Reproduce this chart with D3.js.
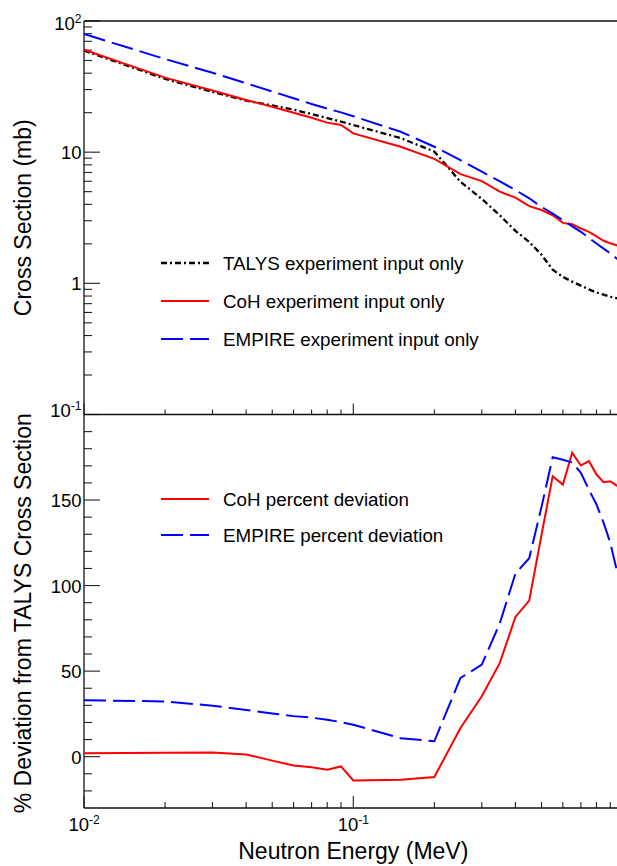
<!DOCTYPE html>
<html>
<head>
<meta charset="utf-8">
<script src="https://cdn.jsdelivr.net/npm/d3@7"></script>
<style>
  html, body { margin: 0; padding: 0; background: #fff; }
  svg { display: block; }
  text { font-family: "Liberation Sans", Arial, Helvetica, sans-serif; fill: #000; }
</style>
</head>
<body>
<svg id="chart" width="617" height="866"></svg>
<script>
// ---------------- DATA ----------------
const energy = [0.01, 0.02, 0.03, 0.04, 0.05, 0.06, 0.07, 0.08, 0.09, 0.1,
                0.15, 0.2, 0.25, 0.3, 0.35, 0.4, 0.45, 0.5, 0.55, 0.6,
                0.65, 0.7, 0.75, 0.8, 0.85, 0.9, 0.95, 1.0];

const talysXS  = [59.5, 36.2, 28.8, 24.7, 22.7, 21.1, 19.5, 18.2, 17.1, 16.1,
                  12.8, 10.1, 5.95, 4.4, 3.3, 2.51, 2.07, 1.65, 1.27, 1.12,
                  1.03, 0.96, 0.9, 0.85, 0.82, 0.79, 0.77, 0.75];
const cohXS    = [60.5, 37.0, 29.5, 25.0, 22.2, 20.0, 18.3, 16.8, 16.1, 13.9,
                  11.0, 8.9, 6.8, 6.02, 5.0, 4.5, 3.88, 3.62, 3.3, 2.89,
                  2.82, 2.62, 2.47, 2.28, 2.11, 2.02, 1.95, 1.9];
const empireXS = [79.5, 51.3, 40.3, 33.5, 29.0, 25.8, 23.3, 21.5, 20.1, 18.8,
                  14.3, 11.0, 8.7, 7.1, 6.0, 5.14, 4.45, 3.83, 3.4, 3.03,
                  2.72, 2.47, 2.22, 2.01, 1.84, 1.69, 1.55, 1.42];

const cohDev    = [2.0, 2.3, 2.5, 1.3, -2.3, -5.1, -6.2, -7.6, -5.7, -13.9,
                   -13.5, -11.9, 16.8, 35.3, 54.8, 81.7, 91.2, 129.7, 163.9, 159.0,
                   177.6, 170.2, 172.7, 164.9, 160.4, 161.0, 158.5, 157.0];
const empireDev = [33.0, 32.3, 29.8, 27.3, 25.3, 23.7, 22.8, 21.6, 20.2, 18.7,
                   10.8, 9.0, 46.0, 53.8, 78.0, 107.0, 116.0, 146.0, 175.0, 173.5,
                   172.0, 165.9, 156.0, 147.4, 136.7, 125.0, 109.4, 96.0];

const topYTickValues = [0.1, 1, 10, 100];
const topYTickLabels = [["10", "-1"], ["1", ""], ["10", ""], ["10", "2"]];
const botYTickValues = [0, 50, 100, 150];
const botYTickLabels = ["0", "50", "100", "150"];
const xTickValues = [0.01, 0.1];
const xTickLabels = [["10", "-2"], ["10", "-1"]];

const topLegend = ["TALYS experiment input only", "CoH experiment input only", "EMPIRE experiment input only"];
const botLegend = ["CoH percent deviation", "EMPIRE percent deviation"];
const xTitle = "Neutron Energy (MeV)";
const topYTitle = "Cross Section (mb)";
const botYTitle = "% Deviation from TALYS Cross Section";

// ---------------- LAYOUT ----------------
const L = 84, T = 21, MID = 414.5, B = 808, R = 622.6;
const svg = d3.select("#chart");

const x = d3.scaleLog().domain([0.01, 1]).range([L, R]);
const yTop = d3.scaleLog().domain([0.1, 100]).range([MID, T]);
const yBot = d3.scaleLinear().domain([-30, 200]).range([B, MID]);

const styles = {
  talys:  { color: "#000000", dash: "6,3,2,3", width: 2.3 },
  coh:    { color: "#ff0000", dash: null, width: 2 },
  empire: { color: "#0000ff", dash: "22,7", width: 2 }
};

// clip paths
const defs = svg.append("defs");
defs.append("clipPath").attr("id", "clipTop").append("rect")
  .attr("x", L).attr("y", T).attr("width", R - L).attr("height", MID - T);
defs.append("clipPath").attr("id", "clipBot").append("rect")
  .attr("x", L).attr("y", MID).attr("width", R - L).attr("height", B - MID);

// ---------- ticks ----------
const tickG = svg.append("g").attr("stroke", "#222").attr("stroke-width", 1.1);

const topMinor = [];
[0.1, 1, 10].forEach(dec => { for (let k = 2; k <= 9; k++) topMinor.push(dec * k); });
tickG.selectAll(".tyMin").data(topMinor).join("line")
  .attr("x1", L).attr("x2", L + 8)
  .attr("y1", d => yTop(d)).attr("y2", d => yTop(d));
tickG.selectAll(".tyMaj").data(topYTickValues).join("line")
  .attr("x1", L).attr("x2", L + 16)
  .attr("y1", d => yTop(d)).attr("y2", d => yTop(d));

const botMinor = d3.range(-20, 200, 10).filter(v => v % 50 !== 0);
tickG.selectAll(".byMin").data(botMinor).join("line")
  .attr("x1", L).attr("x2", L + 8)
  .attr("y1", d => yBot(d)).attr("y2", d => yBot(d));
tickG.selectAll(".byMaj").data(botYTickValues).join("line")
  .attr("x1", L).attr("x2", L + 16)
  .attr("y1", d => yBot(d)).attr("y2", d => yBot(d));

const xMinor = [];
[0.01, 0.1].forEach(dec => { for (let k = 2; k <= 9; k++) xMinor.push(dec * k); });
tickG.selectAll(".txMin").data(xMinor).join("line")
  .attr("x1", d => x(d)).attr("x2", d => x(d))
  .attr("y1", MID).attr("y2", MID - 5);
tickG.selectAll(".txMaj").data(xTickValues).join("line")
  .attr("x1", d => x(d)).attr("x2", d => x(d))
  .attr("y1", MID).attr("y2", MID - 11);
tickG.selectAll(".bxMin").data(xMinor).join("line")
  .attr("x1", d => x(d)).attr("x2", d => x(d))
  .attr("y1", B).attr("y2", B - 6);
tickG.selectAll(".bxMaj").data(xTickValues).join("line")
  .attr("x1", d => x(d)).attr("x2", d => x(d))
  .attr("y1", B).attr("y2", B - 12);

// ---------- frame ----------
const frame = svg.append("g").attr("stroke", "#111").attr("stroke-width", 1.3).attr("fill", "none");
frame.append("line").attr("x1", L).attr("x2", 617).attr("y1", T).attr("y2", T);
frame.append("line").attr("x1", L).attr("x2", 617).attr("y1", MID).attr("y2", MID);
frame.append("line").attr("x1", L).attr("x2", 617).attr("y1", B).attr("y2", B);
frame.append("line").attr("x1", L).attr("x2", L).attr("y1", T).attr("y2", B);

// ---------- tick labels ----------
const FS = 18.5, SUP = 12;
function supLabel(g, base, exp, xPos, yPos, anchor, supDy) {
  const t = g.append("text").attr("x", xPos).attr("y", yPos)
    .attr("text-anchor", anchor).attr("font-size", FS);
  t.append("tspan").text(base);
  if (exp) t.append("tspan").attr("font-size", SUP).attr("dy", supDy).text(exp);
  return t;
}
const lab = svg.append("g");
topYTickValues.forEach((v, i) => {
  let yy = yTop(v) + 7;
  if (i === 0) yy = yTop(v) + 2.5;
  if (i === topYTickValues.length - 1) yy = yTop(v) + 9;
  supLabel(lab, topYTickLabels[i][0], topYTickLabels[i][1], 81.5, yy, "end", -7);
});
botYTickValues.forEach((v, i) => {
  lab.append("text").attr("x", 81.5).attr("y", yBot(v) + 7)
    .attr("text-anchor", "end").attr("font-size", FS).text(botYTickLabels[i]);
});
xTickValues.forEach((v, i) => {
  supLabel(lab, xTickLabels[i][0], xTickLabels[i][1], x(v), 831, "middle", -7);
});

// ---------- titles ----------
svg.append("text").attr("x", (L + R) / 2).attr("y", 859).attr("text-anchor", "middle")
  .attr("font-size", 23).text(xTitle);
svg.append("text").attr("transform", `translate(31,${(T + MID) / 2}) rotate(-90)`)
  .attr("text-anchor", "middle").attr("font-size", 23).text(topYTitle);
svg.append("text").attr("transform", `translate(31,${(MID + B) / 2 + 2}) rotate(-90)`)
  .attr("text-anchor", "middle").attr("font-size", 23).text(botYTitle);

// ---------- lines ----------
const topLine = d3.line().x((d, i) => x(energy[i])).y(d => yTop(d));
const botLine = d3.line().x((d, i) => x(energy[i])).y(d => yBot(d));

const gTop = svg.append("g").attr("clip-path", "url(#clipTop)");
[[talysXS, styles.talys], [cohXS, styles.coh], [empireXS, styles.empire]].forEach(([data, st]) => {
  gTop.append("path").datum(data).attr("d", topLine)
    .attr("fill", "none").attr("stroke", st.color).attr("stroke-width", st.width)
    .attr("stroke-dasharray", st.dash);
});
const gBot = svg.append("g").attr("clip-path", "url(#clipBot)");
[[cohDev, styles.coh], [empireDev, styles.empire]].forEach(([data, st]) => {
  gBot.append("path").datum(data).attr("d", botLine)
    .attr("fill", "none").attr("stroke", st.color).attr("stroke-width", st.width)
    .attr("stroke-dasharray", st.dash);
});

// ---------- legends ----------
function legend(items, stylesArr, ys) {
  const g = svg.append("g");
  items.forEach((txt, i) => {
    g.append("line").attr("x1", 161).attr("x2", 209).attr("y1", ys[i]).attr("y2", ys[i])
      .attr("stroke", stylesArr[i].color).attr("stroke-width", stylesArr[i].width)
      .attr("stroke-dasharray", stylesArr[i].dash);
    g.append("text").attr("x", 223).attr("y", ys[i] + 6.5).attr("font-size", 18.8).text(txt);
  });
}
legend(topLegend, [styles.talys, styles.coh, styles.empire], [263, 301, 339]);
legend(botLegend, [styles.coh, styles.empire], [499, 535]);
</script>
</body>
</html>
